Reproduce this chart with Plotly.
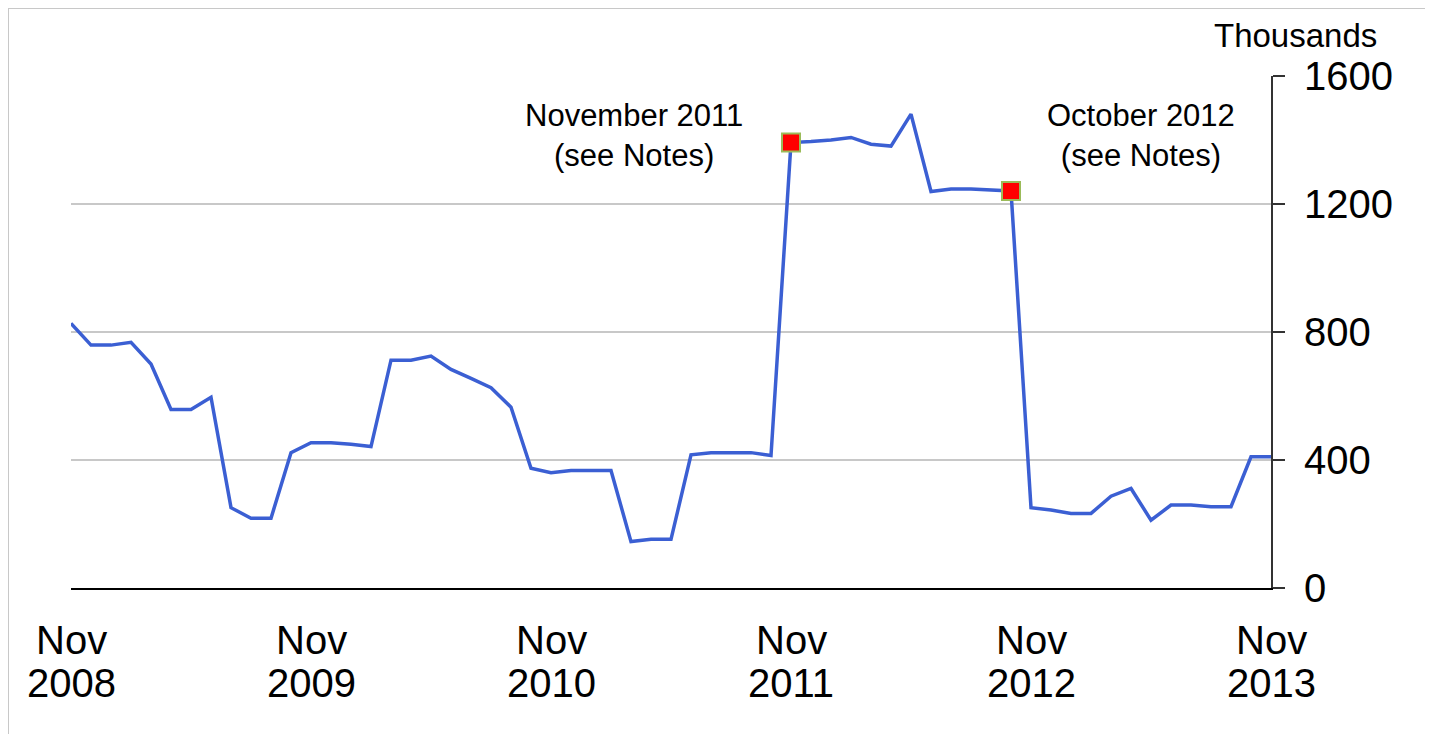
import plotly.graph_objects as go
import pandas as pd

# Month categories, Nov 2008 .. Nov 2013
months = [d.strftime("%b %Y") for d in pd.date_range("2008-11-01", "2013-11-01", freq="MS")]

# Series values (thousands)
values = [827, 759, 759, 768, 700, 558, 558, 596, 251, 218, 218, 423,
          454, 454, 449, 442, 712, 712, 725, 683, 655, 626, 565, 374,
          360, 367, 367, 367, 145, 152, 152, 416, 423, 423, 423, 414,
          1392, 1395, 1400, 1408, 1387, 1381, 1481, 1239, 1247, 1247, 1244, 1241,
          251, 244, 233, 233, 287, 311, 212, 259, 259, 254, 254, 410,
          410]

note_months = ["Nov 2011", "Oct 2012"]
note_texts = ["November 2011<br>(see Notes)", "October 2012<br>(see Notes)"]

tick_months = ["Nov 2008", "Nov 2009", "Nov 2010", "Nov 2011", "Nov 2012", "Nov 2013"]
tick_top = ["Nov", "Nov", "Nov", "Nov", "Nov", "Nov"]
tick_years = ["2008", "2009", "2010", "2011", "2012", "2013"]
y_ticks = [0, 400, 800, 1200, 1600]
unit_label = "Thousands"

FONT = "Liberation Sans, Arial, sans-serif"
LINE_COLOR = "#3b5fd3"

note_values = [values[months.index(m)] for m in note_months]

fig = go.Figure()
fig.add_trace(go.Scatter(
    x=months, y=values, mode="lines",
    line=dict(color=LINE_COLOR, width=3.5),
    hoverinfo="skip", showlegend=False,
))
fig.add_trace(go.Scatter(
    x=note_months, y=note_values, mode="markers",
    marker=dict(symbol="square", size=18, color="#ff0000",
                line=dict(color="#9bbb59", width=2)),
    cliponaxis=False, hoverinfo="skip", showlegend=False,
))

annotations = []
# Note annotations
shifts = [-157, 130]
for m, v, t, s in zip(note_months, note_values, note_texts, shifts):
    annotations.append(dict(
        x=m, xref="x", y=1414, yref="y", text=t, showarrow=False,
        xshift=s, xanchor="center", yanchor="middle", align="center",
        font=dict(family=FONT, size=31, color="#000000"),
    ))
# X tick labels (two lines)
for m, top, yr in zip(tick_months, tick_top, tick_years):
    annotations.append(dict(
        x=m, xref="x", y=0, yref="y", text=top, showarrow=False,
        yshift=-52, xanchor="center", yanchor="middle",
        font=dict(family=FONT, size=40, color="#000000"),
    ))
    annotations.append(dict(
        x=m, xref="x", y=0, yref="y", text=yr, showarrow=False,
        yshift=-95, xanchor="center", yanchor="middle",
        font=dict(family=FONT, size=40, color="#000000"),
    ))
annotations.append(dict(
    x=1.0204, xref="paper", y=1.080, yref="paper", text=unit_label,
    showarrow=False, xanchor="center", yanchor="middle",
    font=dict(family=FONT, size=33, color="#000000"),
))

fig.update_layout(
    width=1425, height=726, autosize=False,
    margin=dict(l=63, r=162, t=68, b=146, pad=0),
    paper_bgcolor="#ffffff", plot_bgcolor="#ffffff",
    font=dict(family=FONT, color="#000000"),
    annotations=annotations,
    shapes=[dict(type="rect", xref="paper", yref="paper",
                 x0=-0.0525, x1=1.1308, y0=-0.32, y1=1.1328,
                 line=dict(color="#c8c8c8", width=2), layer="below")],
)
fig.update_xaxes(
    type="category", categoryorder="array", categoryarray=months,
    range=[0, len(months) - 1], showgrid=False, zeroline=False,
    showline=True, linecolor="#000000", linewidth=2,
    showticklabels=False, ticks="",
)
fig.update_yaxes(
    side="right", range=[0, 1600], tickvals=y_ticks,
    ticktext=[str(v) for v in y_ticks],
    showgrid=True, gridcolor="#c8c8c8", gridwidth=2, zeroline=False,
    showline=True, linecolor="#333333", linewidth=2,
    ticks="outside", ticklen=12, tickwidth=2, tickcolor="#333333",
    tickfont=dict(family=FONT, size=40, color="#000000"),
    ticklabelstandoff=11,
)

fig.write_html("out.html")
